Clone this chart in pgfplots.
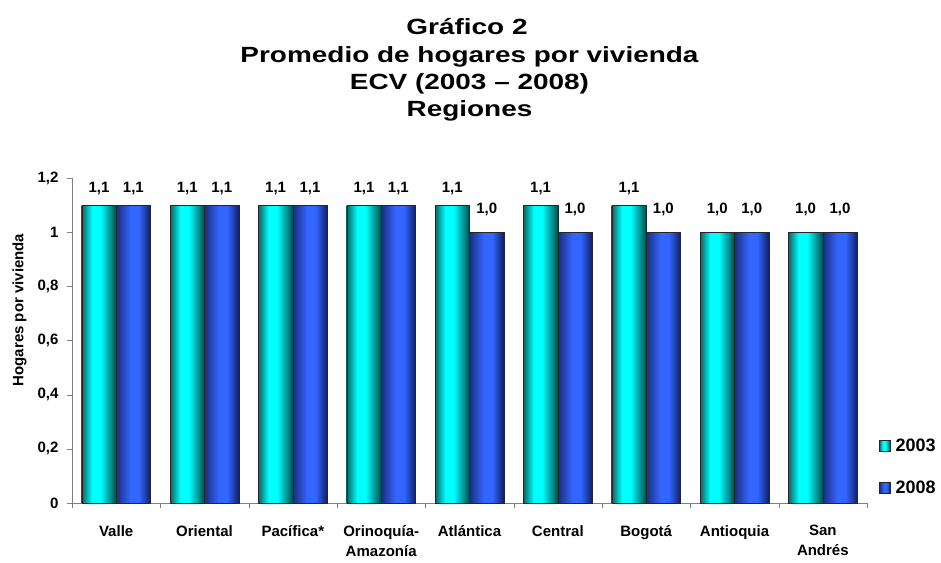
\documentclass[border=0pt]{standalone}
\usepackage{fontspec}
\setmainfont{Liberation Sans}
\newfontfamily\titlefont{Liberation Sans}[FakeStretch=1.27]
\usepackage{pgfplots}
\pgfplotsset{compat=1.18}
\pgfkeys{/pgf/number format/.cd, use comma, assume math mode=true}

\definecolor{cyanhi}{RGB}{0,255,255}
\definecolor{cyanlo}{RGB}{0,105,105}
\definecolor{cyanlo2}{RGB}{0,75,75}
\definecolor{bluehi}{RGB}{51,102,255}
\definecolor{bluelo}{RGB}{25,45,130}
\definecolor{bluelo2}{RGB}{18,30,90}
\definecolor{axisgray}{RGB}{128,128,128}

% bar edges sit at 25bp and 75bp of the shading
\pgfdeclarehorizontalshading{barcyan}{100bp}{color(0bp)=(cyanlo); color(25bp)=(cyanlo);
  color(40bp)=(cyanhi); color(52bp)=(cyanhi); color(75bp)=(cyanlo2); color(100bp)=(cyanlo2)}
\pgfdeclarehorizontalshading{barblue}{100bp}{color(0bp)=(bluelo); color(25bp)=(bluelo);
  color(46bp)=(bluehi); color(58bp)=(bluehi); color(75bp)=(bluelo2); color(100bp)=(bluelo2)}

\newcommand\lblfont{\bfseries\fontsize{15bp}{20bp}\selectfont}

% one \addplot per bar, so that each bar gets its own shading
\pgfplotsset{
  b03/.style={draw=black!85, shade, shading=barcyan, bar shift=-0.195, forget plot},
  b08/.style={draw=black!85, shade, shading=barblue, bar shift=0.195, forget plot},
  up/.style={every node near coord/.append style={yshift=6bp}},
}

\begin{document}
\begin{tikzpicture}
\begin{axis}[
  at={(0,0)}, anchor=south west,
  scale only axis, width=795bp, height=325bp,
  ybar=0pt, bar width=0.39,
  xmin=-0.5, xmax=8.5, ymin=0, ymax=1.2,
  xtick={0,...,8},
  xticklabels={Valle, Oriental, Pacífica*, {Orinoquía-\\Amazonía}, Atlántica, Central, Bogotá, Antioquia, {San\\Andrés}},
  minor xtick={-0.5,0.5,...,8.5},
  ytick={0,0.2,0.4,0.6,0.8,1,1.2},
  axis lines=left, axis line style={-, draw=axisgray},
  tick align=outside, major tick length=5bp, minor tick length=5bp,
  tick style={draw=axisgray},
  major x tick style={draw=none},
  xticklabel style={font=\lblfont, align=center, yshift=-14bp},
  yticklabel style={font=\lblfont, xshift=-5bp},
  ylabel={Hogares por vivienda},
  every axis y label/.style={at={(axis description cs:-0.066,0.594)}, rotate=90, anchor=center, font=\lblfont},
  nodes near coords,
  every node near coord/.append style={font=\bfseries\fontsize{15bp}{16bp}\selectfont, yshift=7bp,
    /pgf/number format/fixed, /pgf/number format/fixed zerofill, /pgf/number format/precision=1},
  legend style={draw=none, fill=none, at={(axis description cs:1,0)}, anchor=south west,
    xshift=12bp, yshift=6bp, row sep=24bp, font=\bfseries\fontsize{18bp}{20bp}\selectfont, inner sep=0pt},
  legend cell align=left,
]
% 2003
\addplot[b03] coordinates {(0,1.1)};
\addplot[b03] coordinates {(1,1.1)};
\addplot[b03] coordinates {(2,1.1)};
\addplot[b03] coordinates {(3,1.1)};
\addplot[b03] coordinates {(4,1.1)};
\addplot[b03] coordinates {(5,1.1)};
\addplot[b03] coordinates {(6,1.1)};
\addplot[b03, up] coordinates {(7,1.0)};
\addplot[b03, up] coordinates {(8,1.0)};
% 2008
\addplot[b08] coordinates {(0,1.1)};
\addplot[b08] coordinates {(1,1.1)};
\addplot[b08] coordinates {(2,1.1)};
\addplot[b08] coordinates {(3,1.1)};
\addplot[b08, up] coordinates {(4,1.0)};
\addplot[b08, up] coordinates {(5,1.0)};
\addplot[b08, up] coordinates {(6,1.0)};
\addplot[b08, up] coordinates {(7,1.0)};
\addplot[b08, up] coordinates {(8,1.0)};
\addlegendimage{legend image code/.code={\draw[draw=black!85, shade, shading=barcyan] (0bp,-5.5bp) rectangle (11bp,5.5bp);}}
\addlegendentry{\,2003}
\addlegendimage{legend image code/.code={\draw[draw=black!85, shade, shading=barblue] (0bp,-5.5bp) rectangle (11bp,5.5bp);}}
\addlegendentry{\,2008}
\end{axis}
\begin{scope}[every node/.style={font=\titlefont\bfseries\fontsize{22bp}{26bp}\selectfont, anchor=base, inner sep=0pt}]
\node at (395bp,468bp) {Gráfico 2};
\node at (397.5bp,440bp) {Promedio de hogares por vivienda};
\node at (397.5bp,413bp) {ECV (2003 – 2008)};
\node at (397.5bp,386bp) {Regiones};
\end{scope}
\pgfresetboundingbox
\path (-72bp,-60bp) rectangle (869bp,503bp);
\end{tikzpicture}
\end{document}
